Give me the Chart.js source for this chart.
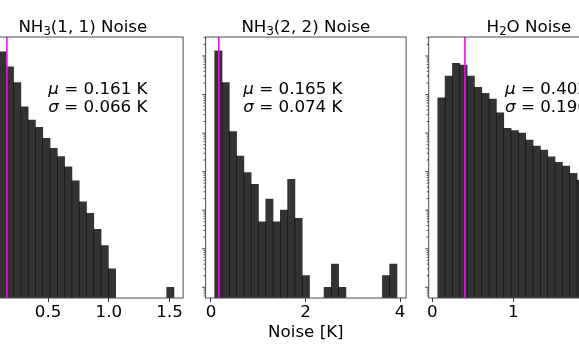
<!DOCTYPE html>
<html lang="en">
<head>
<meta charset="UTF-8">
<title>Noise histograms</title>
<style>
    html, body { margin: 0; padding: 0; background: #fff; overflow: hidden; }
    body { width: 579px; height: 360px; position: relative; }
    canvas { position: absolute; top: 0; left: -60px; }
</style>
</head>
<body>
<canvas id="c0" width="700" height="360"></canvas>
<canvas id="c1" width="700" height="360"></canvas>
<canvas id="c2" width="700" height="360"></canvas>

<script src="https://cdn.jsdelivr.net/npm/chart.js"></script>
<script>
    // pixel counts per bin (25 bins each); null = empty bin
    const nh311Counts = [450000, 1290000, 527000, 203000, 48000, 21900, 14200, 7300, 4000, 2450,
        1340, 580, 166, 83, 32, 12, 3, null, null, null, null, null, null, null, 1];
    const nh322Counts = [1370000, 203000, 10900, 2550, 940, 470, 50, 195, 50, 101,
        635, 62, 2, null, null, 1, 4, 1, null, null, null, null, null, 2, 4];
    const h2oCounts = [82800, 300800, 647000, 585000, 300800, 154200, 107700, 76700, 33800, 13300,
        11540, 10070, 6620, 4620, 3640, 2440, 1750, 1400, 906, 607, 376, 233, 136, 75, 35];

    const binStarts = [0.036, 0.079, 0.067];   // K
    const binWidths = [0.06, 0.1542, 0.0905];  // K
    const means = [0.161, 0.165, 0.402];
    const sigmas = [0.066, 0.074, 0.196];
    const titles = [['NH', '3', '(1, 1) Noise'], ['NH', '3', '(2, 2) Noise'], ['H', '2', 'O Noise']];
    const xTickSteps = [0.5, 2, 1];
    const xLabel = 'Noise [K]';

    // layout (page pixels)
    const OFF = 60, CW = 700, PW = 200.5, TOP = 37, BOTTOM = 298;
    const panelLefts = [-17.4, 205.6, 428.7];
    const xLimits = [[-0.039, 1.611], [-0.114, 4.127], [-0.045, 2.43]];
    const yMin = 0.528, yMax = 3.11e6;
    const statX = [48.3, 243.3, 505];
    const FONT = '"DejaVu Sans"', FS = 16.7;

    const allCounts = [nh311Counts, nh322Counts, h2oCounts];

    function drawTitle(ctx, parts, cx, base) {
        const big = FS + 'px ' + FONT;
        const small = (FS * 0.7).toFixed(1) + 'px ' + FONT;
        ctx.font = big;
        const w0 = ctx.measureText(parts[0]).width;
        const w2 = ctx.measureText(parts[2]).width;
        ctx.font = small;
        const w1 = ctx.measureText(parts[1]).width;
        let x = cx - (w0 + w1 + w2) / 2;
        ctx.font = big; ctx.fillText(parts[0], x, base); x += w0;
        ctx.font = small; ctx.fillText(parts[1], x, base + 3); x += w1;
        ctx.font = big; ctx.fillText(parts[2], x, base);
    }

    function drawStat(ctx, sym, val, x, base) {
        ctx.font = 'italic ' + FS + 'px ' + FONT;
        ctx.fillText(sym, x, base);
        const w = ctx.measureText(sym).width;
        ctx.font = FS + 'px ' + FONT;
        ctx.fillText(' = ' + val.toFixed(3) + ' K', x + w, base);
    }

    function decorPlugin(i) {
        return {
            id: 'decor' + i,
            afterDraw(chart) {
                const ctx = chart.ctx, a = chart.chartArea, ys = chart.scales.y;
                ctx.save();
                // frame
                ctx.strokeStyle = '#4a4a4a';
                ctx.lineWidth = 1;
                ctx.strokeRect(a.left, a.top, a.right - a.left, a.bottom - a.top);
                // log y ticks (labels hidden, shared axis)
                ctx.beginPath();
                for (let e = -1; e <= 6; e++) {
                    for (let m = 1; m <= 9; m++) {
                        const v = m * Math.pow(10, e);
                        if (v < yMin || v > yMax) continue;
                        const y = ys.getPixelForValue(v);
                        const len = m === 1 ? 3.5 : 2;
                        ctx.moveTo(a.left - len, y);
                        ctx.lineTo(a.left, y);
                    }
                }
                ctx.stroke();
                // texts
                ctx.fillStyle = '#000';
                ctx.textAlign = 'left';
                ctx.textBaseline = 'alphabetic';
                drawTitle(ctx, titles[i], (a.left + a.right) / 2, 32.3);
                drawStat(ctx, 'μ', means[i], statX[i] + OFF, 94.3);
                drawStat(ctx, 'σ', sigmas[i], statX[i] + OFF, 111.7);
                if (i === 1) {
                    ctx.font = FS + 'px ' + FONT;
                    ctx.textAlign = 'center';
                    ctx.fillText(xLabel, (a.left + a.right) / 2, 336.7);
                }
                ctx.restore();
            }
        };
    }

    for (let i = 0; i < 3; i++) {
        const padLeft = panelLefts[i] + OFF;
        const bars = allCounts[i].map((c, j) => ({ x: binStarts[i] + (j + 0.5) * binWidths[i], y: c }));
        new Chart(document.getElementById('c' + i), {
            type: 'bar',
            data: {
                datasets: [
                    {
                        type: 'bar',
                        data: bars,
                        backgroundColor: 'rgba(0, 0, 0, 0.8)',
                        borderWidth: 0,
                        barPercentage: 1,
                        categoryPercentage: 1,
                        order: 2
                    },
                    {
                        type: 'line',
                        data: [{ x: means[i], y: yMin }, { x: means[i], y: yMax }],
                        borderColor: '#ff00ff',
                        borderWidth: 1.6,
                        pointRadius: 0,
                        order: 1
                    }
                ]
            },
            options: {
                responsive: false,
                animation: false,
                layout: { padding: { left: padLeft, right: CW - padLeft - PW, top: TOP, bottom: 0 } },
                plugins: { legend: { display: false }, tooltip: { enabled: false } },
                scales: {
                    x: {
                        type: 'linear',
                        min: xLimits[i][0],
                        max: xLimits[i][1],
                        offset: false,
                        afterFit: s => { s.height = 360 - BOTTOM; },
                        ticks: {
                            stepSize: xTickSteps[i],
                            includeBounds: false,
                            autoSkip: false,
                            maxRotation: 0,
                            padding: 1,
                            color: '#000',
                            font: { family: 'DejaVu Sans', size: FS },
                            callback: v => i === 0 ? v.toFixed(1) : String(Math.round(v))
                        },
                        grid: { display: true, offset: false, drawOnChartArea: false, drawTicks: true, tickLength: 4, tickColor: '#333' },
                        border: { display: false }
                    },
                    y: { type: 'logarithmic', min: yMin, max: yMax, display: false }
                }
            },
            plugins: [decorPlugin(i)]
        });
    }
</script>
</body>
</html>
